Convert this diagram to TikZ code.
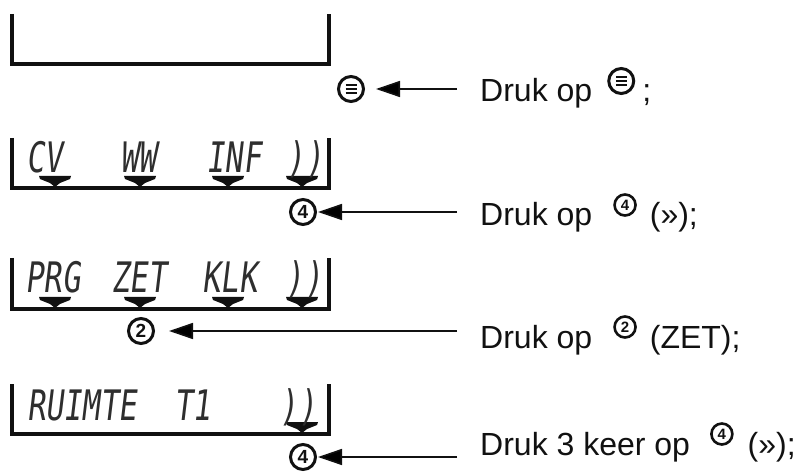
\documentclass[tikz,border=0pt]{standalone}
\usepackage{fontspec}
\setmainfont{Liberation Sans}
\newfontfamily\lcdfont[FakeStretch=0.72,FakeSlant=0.12]{DejaVu Sans Mono}
\usetikzlibrary{arrows.meta,positioning}
\definecolor{inkt}{HTML}{111111}
\definecolor{lcdgrijs}{HTML}{2E2E2E}
\tikzset{
  paneel/.style={line width=3.2pt, draw=inkt},
  lcd/.style={font=\lcdfont\fontsize{42}{42}\selectfont, text=lcdgrijs,
    inner sep=0pt, anchor=base},
  knop/.style={circle, draw=inkt, line width=3pt, minimum size=25pt,
    inner sep=0pt, anchor=center, text=inkt, font=\bfseries\fontsize{19}{19}\selectfont},
  knopklein/.style={knop, minimum size=21pt, line width=2.6pt,
    font=\bfseries\fontsize{15}{15}\selectfont},
  pijl/.style={-{Triangle[length=24pt,width=16pt]}, line width=1.6pt, draw=inkt},
  tekst/.style={anchor=base west, inner sep=0pt, text=inkt,
    font=\fontsize{32}{36}\selectfont},
  markering/.style={fill=inkt}
}
\newcommand{\menustreep}{\vbox{\hrule width 11pt height 2pt\vskip 2.2pt
  \hrule width 11pt height 2pt\vskip 2.2pt\hrule width 11pt height 2pt}}
\newcommand{\knopin}[2][knop]{\tikz[baseline=0pt]\node[#1] at (0pt,21pt) {#2};}

\begin{document}
\begin{tikzpicture}[x=1pt,y=-1pt]
  \useasboundingbox (0,0) rectangle (809,473);
  % displays
  \draw[paneel] (12,14) -- (12,64) -- (329,64) -- (329,14);
  \draw[paneel] (12,138) -- (12,188) -- (329,188) -- (329,138);
  \draw[paneel] (12,258) -- (12,309) -- (329,309) -- (329,258);
  \draw[paneel] (12,384) -- (12,434) -- (329,434) -- (329,384);
  \foreach \tx/\ty in {55/188,140/188,228/188,302/188,55/309,140/309,228/309,302/309,302/434}
    \fill[markering] (\tx-16,\ty-12) -- (\tx+16,\ty-12) -- (\tx+15,\ty-9) -- (\tx+5,\ty-5)
      -- (\tx,\ty-1) -- (\tx-5,\ty-5) -- (\tx-15,\ty-9) -- cycle;
  % display texts
  \node[lcd] (cv) at (45,173) {CV};
  \node[lcd] (ww) at (139,173) {WW};
  \node[lcd] (inf) at (234,173) {INF};
  \node[lcd] (verder1) at (305,173) {))};
  \node[lcd] (prg) at (53,293) {PRG};
  \node[lcd] (zet) at (139,293) {ZET};
  \node[lcd] (klk) at (230,293) {KLK};
  \node[lcd] (verder2) at (304,293) {))};
  \node[lcd] (ruimte) at (82,420) {RUIMTE};
  \node[lcd] (t1) at (193,420) {T1};
  \node[lcd] (verder3) at (298,420) {))};
  % buttons
  \node[knop] (menu) at (351,89) {\menustreep};
  \node[knop] (knopvier) at (303,212) {4};
  \node[knop] (knoptwee) at (141,331) {2};
  \node[knop] (knopvierb) at (303,457) {4};
  % instructions
  \node[tekst] (stap1) at (480,102) {Druk op\hspace{15pt}\knopin{\menustreep}\hspace{7pt};};
  \node[tekst] (stap2) at (480,226) {Druk op\hspace{21pt}\knopin[knopklein]{4}\hspace{13pt}(»);};
  \node[tekst] (stap3) at (480,348) {Druk op\hspace{21pt}\knopin[knopklein]{2}\hspace{13pt}(ZET);};
  \node[tekst] (stap4) at (480,455) {Druk 3 keer op\hspace{20pt}\knopin[knopklein]{4}\hspace{14pt}(»);};
  \coordinate (van1) at (457,89);
  \coordinate (van2) at (457,212);
  \coordinate (van3) at (457,331);
  \coordinate (van4) at (457,457);
  \draw[pijl, shorten >=11pt] (van1) -- (menu);
  \draw[pijl, shorten >=1pt] (van2) -- (knopvier);
  \draw[pijl, shorten >=14pt] (van3) -- (knoptwee);
  \draw[pijl, shorten >=1pt] (van4) -- (knopvierb);
\end{tikzpicture}
\end{document}
